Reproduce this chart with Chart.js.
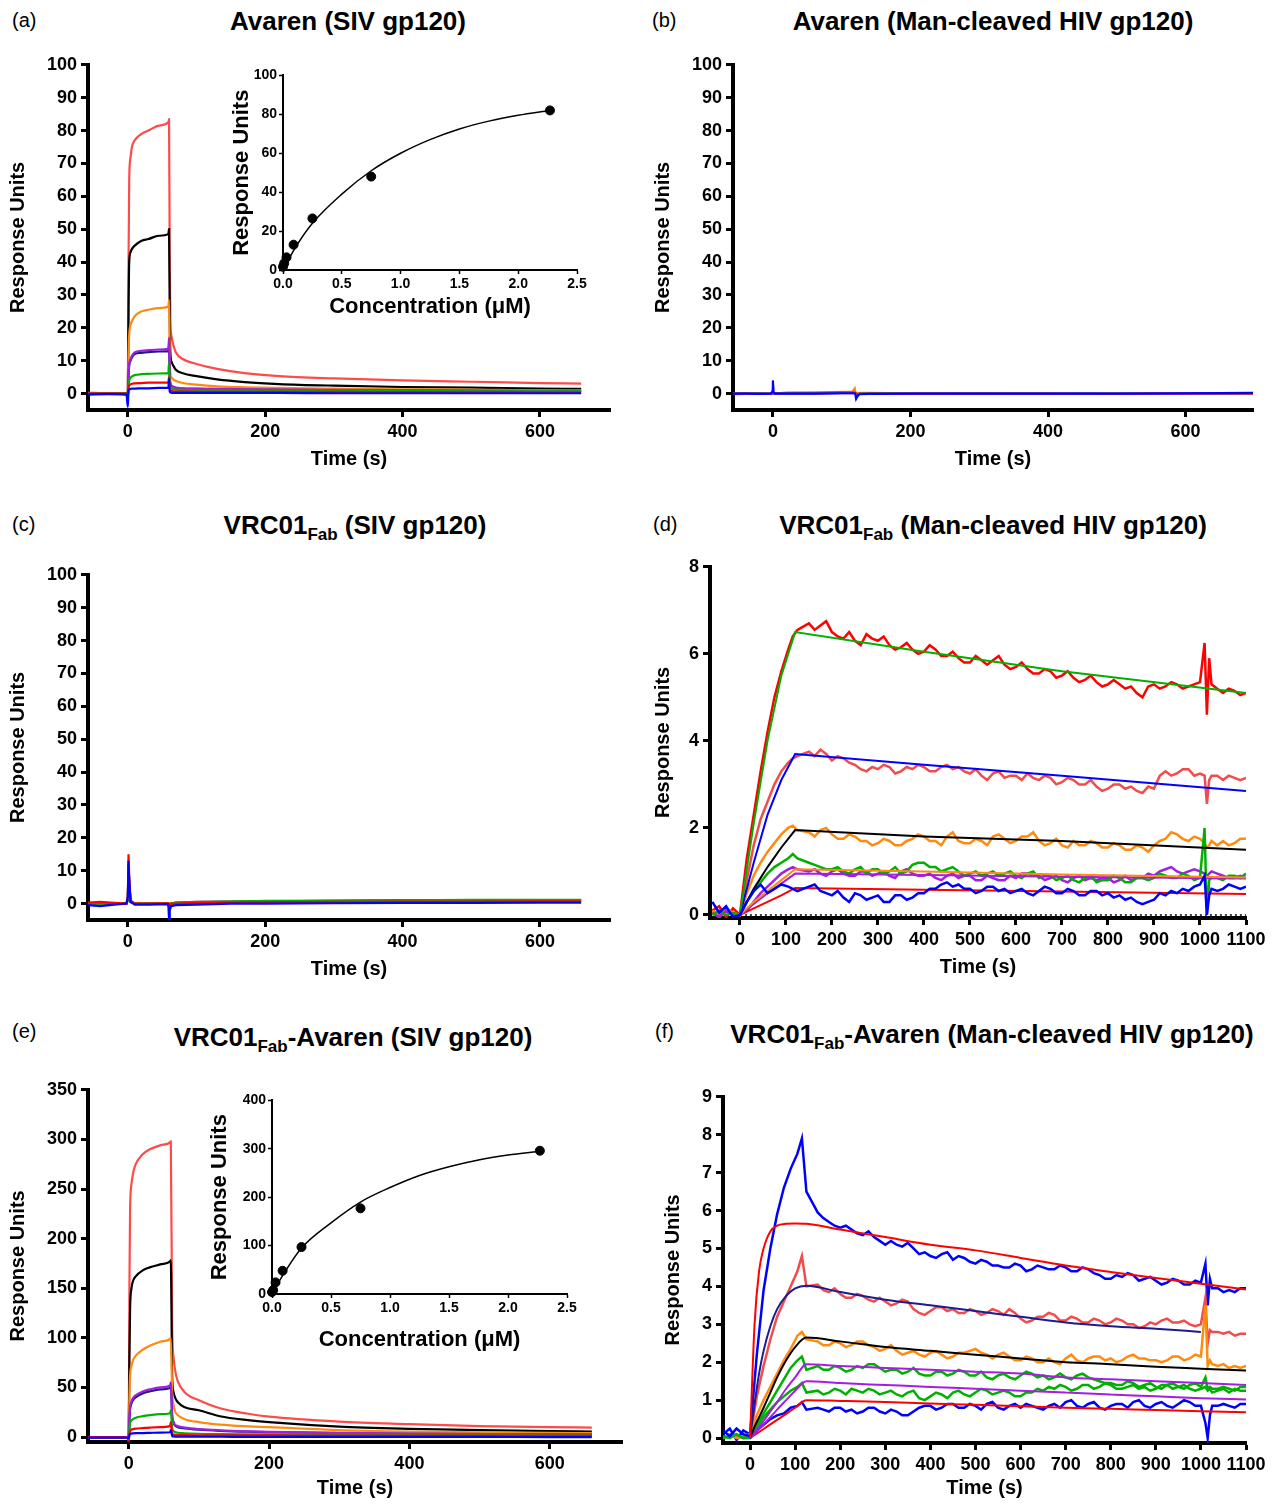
<!DOCTYPE html>
<html>
<head>
<meta charset="utf-8">
<script src="https://cdn.jsdelivr.net/npm/chart.js@4.4.1/dist/chart.umd.min.js"></script>
<style>
body { margin: 0; background: #fff; font-family: "Liberation Sans", Arial, sans-serif; }
#page { position: relative; width: 1278px; height: 1504px; overflow: hidden; }
canvas { position: absolute; }
.title { position: absolute; width: 600px; font-weight: bold; font-size: 26px; line-height: 30px; text-align: center; white-space: nowrap; }
.title sub { font-size: 17px; vertical-align: -6px; line-height: 0; }
.lab { position: absolute; font-size: 20px; line-height: 24px; }
</style>
</head>
<body>
<div id="page">
  <div class="lab" style="left:12px;top:8px">(a)</div>
  <div class="title" style="left:48px;top:6px">Avaren (SIV gp120)</div>
  <div class="lab" style="left:652px;top:8px">(b)</div>
  <div class="title" style="left:693px;top:6px">Avaren (Man-cleaved HIV gp120)</div>
  <div class="lab" style="left:12px;top:512px">(c)</div>
  <div class="title" style="left:55px;top:510px">VRC01<sub>Fab</sub> (SIV gp120)</div>
  <div class="lab" style="left:653px;top:512px">(d)</div>
  <div class="title" style="left:693px;top:510px">VRC01<sub>Fab</sub> (Man-cleaved HIV gp120)</div>
  <div class="lab" style="left:12px;top:1019px">(e)</div>
  <div class="title" style="left:53px;top:1022px">VRC01<sub>Fab</sub>-Avaren (SIV gp120)</div>
  <div class="lab" style="left:655px;top:1019px">(f)</div>
  <div class="title" style="left:692px;top:1019px">VRC01<sub>Fab</sub>-Avaren (Man-cleaved HIV gp120)</div>

  <canvas id="ca"></canvas>
  <canvas id="cai"></canvas>
  <canvas id="cb"></canvas>
  <canvas id="cc"></canvas>
  <canvas id="cd"></canvas>
  <canvas id="ce"></canvas>
  <canvas id="cei"></canvas>
  <canvas id="cf"></canvas>
</div>
<script>
// ---- (a) Avaren / SIV gp120 ----
const aTime   = [-58,-30,-2,0, 1,2,4,6,10,20,30,45,59, 60,61,62,64,66,70,80,100,130,170,220,300,400,500,600,660];
const aSalmon = [0,0,0,0, 40,65,72,75,77,79,80,81.5,82.5, 83.5,40,22,17,15,12.5,10.5,9,7.5,6.2,5.3,4.6,4,3.6,3.2,3];
const aBlack  = [0,0,0,-1, 25,40,43,44,45,46.5,47,48,48.5, 50,24,12,9.5,8.5,7.2,6.2,5.3,4.3,3.5,2.9,2.4,2,1.8,1.5,1.4];
const aOrange = [0,0,0,-1, 12,18,21,22,23.5,25,25.5,26,26.5, 28.5,12,6,4.8,4.3,3.8,3.2,2.7,2.2,1.9,1.7,1.5,1.3,1.2,1,1];
const aPurple = [0.3,0,-0.3,-1, 6,9,10.5,11.5,12.5,13,13.2,13.4,13.6, 17,6,3,2.4,2.1,1.8,1.6,1.5,1.4,1.3,1.2,1.1,1,0.9,0.85,0.8];
const aNavy   = [0,0,0,-1.5, 5,8.5,10,11,12,12.4,12.6,12.8,12.9, 15,5.5,2.8,2.2,2,1.7,1.5,1.4,1.3,1.2,1.1,1,0.9,0.8,0.75,0.7];
const aGreen  = [0,0,0,-1, 2.5,4,4.8,5.2,5.6,5.9,6,6.1,6.2, 9.5,3,1.8,1.5,1.3,1.2,1.1,1,0.95,0.9,0.85,0.8,0.75,0.7,0.7,0.7];
const aRed    = [0,0,0,-1, 1.5,2.5,2.8,3,3.1,3.2,3.3,3.3,3.4, 5,1.5,0.9,0.8,0.7,0.6,0.6,0.55,0.5,0.5,0.5,0.5,0.45,0.45,0.4,0.4];
const aBlue   = [-0.3,-0.2,-0.3,-4, 1,1.3,1.4,1.5,1.5,1.6,1.6,1.7,1.7, 4.5,0.6,0.3,0.2,0.2,0.2,0.2,0.2,0.2,0.2,0.2,0.1,0.1,0.1,0.1,0.1];

// insets: steady-state response vs concentration
const insetConc    = [0, 0.01, 0.03, 0.09, 0.25, 0.75, 2.27];
const insetFitConc = [0, 0.1, 0.25, 0.5, 0.75, 1.0, 1.25, 1.5, 1.75, 2.0, 2.27];
const aInsetResp   = [1.7, 3.4, 6.5, 13, 26.5, 48, 82];
const aInsetFit    = [0, 11, 24, 39, 51, 60, 67, 72.5, 76.5, 79.5, 82];
const eInsetResp   = [4, 8, 24, 48, 97, 177, 296];
const eInsetFit    = [0, 42, 95, 147, 190, 220, 245, 263, 277, 287, 295];

// ---- (b) Avaren / Man-cleaved HIV gp120 ----
const bTime   = [-58,-40,-20,-3,-1,0,1,3,20,60,100,115,119,120,121,123,126,140,200,300,400,500,600,698];
const bOrange = [0,0,0,0,0,0,0,0.1,0.2,0.3,0.5,0.5,1.6,0.4,0.2,0.2,0.2,0.2,0.1,0.1,0,0,0,0.1];
const bRed    = [0,0.1,0,0,0,0,0,0.1,0.2,0.2,0.3,0.3,0.3,0.2,-0.4,-0.3,0,0,0,0,-0.1,-0.1,0,0];
const bGreen  = [0,0,0.1,0,0,0.3,0,0,0.1,0.1,0.2,0.2,0.2,0.1,-0.3,-0.2,0,0,0,0,0,0,0,0.1];
const bPurple = [-0.2,-0.1,0,0,0,0.5,0,0,0,0,0.1,0.1,0.1,0,-0.6,-0.3,-0.1,-0.1,-0.1,0,0,-0.1,0,0.1];
const bBlue   = [0,0,-0.1,0,0.5,4,0.5,0,0,0,0.1,0.1,0.1,-0.3,-1.6,-0.8,-0.2,-0.1,0,0,0,0,0.1,0.2];

// ---- (c) VRC01Fab / SIV gp120 ----
const cTime   = [-58,-40,-20,-2,0,1,2,4,10,30,58,59,60,61,63,70,100,150,200,300,400,500,600,660];
const cRed    = [0.3,0.5,0.2,0,2,15,8,1,0,0,0.1,0.1,-1,-0.5,0,0,0.2,0.3,0.4,0.5,0.6,0.6,0.7,0.7];
const cBlack  = [0,0,0,0,1,12,6,0.5,0,0,0,0,-1,-0.5,0,0.3,0.5,0.6,0.7,0.8,1,1,1,1];
const cGreen  = [0,0,0,0,1,12,6,0.5,0,0,0,0,-1,-0.5,0,0.2,0.4,0.6,0.8,0.9,1,1.1,1.1,1.1];
const cOrange = [0,0,0,0,1,12,6,0.5,0,0,0,0,-1,-0.5,0,0.2,0.4,0.5,0.6,0.7,0.8,0.9,0.9,0.9];
const cBlue   = [-0.5,-0.8,-0.3,0,2,13,7,0.5,-0.3,-0.3,-0.2,-0.2,-5,-2,-0.8,-0.5,-0.3,0,0,0.1,0.2,0.2,0.3,0.3];

// ---- noisy sensorgrams, (d) and (f) share one time grid ----
const noisyTime = [-60,-45,-30,-15, 0,15,30,45,60,75,90,105,115,125,
  150,162.5,175,187.5,200,212.5,225,237.5,250,262.5,275,287.5,300,312.5,325,337.5,350,362.5,375,387.5,
  400,412.5,425,437.5,450,462.5,475,487.5,500,512.5,525,537.5,550,562.5,575,587.5,600,612.5,625,637.5,
  650,662.5,675,687.5,700,712.5,725,737.5,750,762.5,775,787.5,800,812.5,825,837.5,850,862.5,875,887.5,
  900,912.5,925,937.5,950,962.5,975,987.5,1000,
  1010,1015,1020,1025, 1037.5,1050,1062.5,1075,1087.5,1100];

// (d) VRC01Fab / Man-cleaved HIV gp120
const dRed = [0.1,0.2,-0.05,0.15, 0,1.3,2.3,3.3,4.2,5.0,5.6,6.1,6.4,6.55,
  6.7,6.55,6.65,6.75,6.5,6.4,6.35,6.5,6.3,6.2, 6.45,6.35,6.3,6.4,6.2,6.1,6.15,6.25,6.1,6.0,
  6.05,6.2,6.1,5.95,5.95,6.05,5.9,5.8,5.8,5.95, 5.85,5.75,5.85,5.95,5.75,5.65,5.7,5.8,5.65,5.55,
  5.55,5.65,5.6,5.45,5.5,5.6,5.45,5.35,5.4,5.5, 5.35,5.25,5.3,5.4,5.3,5.2,5.25,5.1,5.0,5.25,
  5.3,5.2,5.25,5.35,5.3,5.2,5.25,5.3,5.35,
  6.25,4.6,5.9,5.3, 5.2,5.1,5.2,5.15,5.05,5.1];
const dLightRed = [0.05,-0.05,0.1,0, 0,0.8,1.6,2.2,2.6,3.0,3.3,3.5,3.6,3.65,
  3.75,3.65,3.8,3.7,3.55,3.65,3.6,3.5,3.45,3.35, 3.3,3.4,3.35,3.45,3.4,3.25,3.3,3.4,3.35,3.45,
  3.4,3.3,3.3,3.4,3.45,3.35,3.4,3.3,3.25,3.35, 3.2,3.1,3.25,3.3,3.15,3.2,3.2,3.1,3.25,3.15,
  3.1,3.2,3.15,3.0,3.05,3.15,3.1,3.0,3.0,3.1, 2.95,2.85,2.9,3.0,3.0,2.9,2.95,2.85,2.8,2.95,
  2.9,3.2,3.3,3.2,3.25,3.35,3.35,3.2,3.25,
  3.2,2.55,3.1,3.2, 3.2,3.1,3.2,3.15,3.1,3.15];
const dOrange = [0.1,0,0.15,0.05, 0,0.5,0.9,1.2,1.45,1.65,1.85,2.0,2.05,1.95,
  1.9,1.8,1.95,2.0,1.85,1.75,1.75,1.85,1.8,1.7, 1.7,1.6,1.65,1.75,1.7,1.6,1.6,1.7,1.75,1.85,
  1.8,1.7,1.7,1.6,1.8,1.9,1.7,1.65,1.65,1.75, 1.7,1.6,1.8,1.85,1.75,1.65,1.7,1.8,1.8,1.9,
  1.7,1.6,1.65,1.75,1.6,1.55,1.7,1.6,1.6,1.7, 1.65,1.55,1.55,1.65,1.6,1.5,1.5,1.6,1.55,1.45,
  1.6,1.7,1.75,1.9,1.85,1.75,1.7,1.8,1.75,
  1.65,1.55,1.6,1.7, 1.6,1.7,1.6,1.65,1.75,1.75];
const dGreen = [0,0.1,0,0.05, 0,0.3,0.55,0.75,0.95,1.1,1.2,1.3,1.4,1.3,
  1.2,1.15,1.1,1.05,1.05,1.1,1.0,0.95,1.05,1.1, 0.95,1.05,1.05,0.95,1.0,1.1,0.95,1.0,1.15,1.2,
  1.2,1.1,1.1,1.0,1.05,1.1,1.0,0.9,0.95,1.0, 0.9,0.95,1.0,0.9,0.95,1.0,0.9,0.85,0.95,1.0,
  0.85,0.9,0.9,0.8,0.85,0.9,0.8,0.75,0.85,0.9, 0.75,0.8,0.8,0.9,0.85,0.75,0.75,0.85,0.85,0.8,
  0.85,0.95,0.9,0.85,0.85,0.95,0.9,0.8,0.85,
  2.0,0.0,0.8,0.85, 0.85,0.8,0.9,0.9,0.85,0.95];
const dPurple = [0.05,-0.05,0.1,0, 0,0.1,0.3,0.5,0.65,0.8,0.95,1.05,1.1,1.05,
  1.0,1.05,0.95,0.9,1.0,1.05,0.95,0.9,0.9,1.0, 1.0,0.9,0.95,1.0,0.9,0.85,1.0,1.05,0.95,0.9,
  0.9,0.95,0.85,0.8,0.9,0.95,0.85,0.9,0.9,0.8, 0.8,0.9,0.85,0.8,0.8,0.9,0.85,0.95,0.95,0.9,
  0.9,0.8,0.85,0.9,0.8,0.75,0.85,0.9,0.8,0.85, 0.8,0.85,0.85,0.75,0.8,0.9,0.8,0.85,0.85,0.95,
  0.9,1.0,1.05,1.1,1.0,0.95,1.0,1.05,1.0,
  0.95,0.9,0.95,1.0, 0.95,0.9,0.85,0.85,0.9,0.85];
const dBlue = [0.3,0.05,0.2,-0.05, 0,0.3,0.55,0.7,0.5,0.6,0.7,0.65,0.6,0.55,
  0.65,0.7,0.55,0.5,0.45,0.55,0.4,0.3,0.5,0.45, 0.35,0.4,0.45,0.3,0.3,0.45,0.45,0.35,0.4,0.5,
  0.5,0.6,0.6,0.7,0.75,0.65,0.7,0.6,0.6,0.5, 0.55,0.65,0.65,0.55,0.6,0.5,0.55,0.6,0.5,0.45,
  0.55,0.65,0.6,0.5,0.5,0.6,0.55,0.45,0.45,0.55, 0.55,0.45,0.5,0.4,0.45,0.35,0.4,0.3,0.25,0.3,
  0.35,0.5,0.45,0.55,0.5,0.6,0.55,0.65,0.7,
  0.9,0.0,0.45,0.6, 0.55,0.6,0.7,0.65,0.6,0.65];
const dFitTime   = [0,30,60,90,120,400,700,1100];
const dFitGreen  = [0,2.1,4.0,5.5,6.5,6.05,5.6,5.1];
const dFitBlue   = [0,1.2,2.3,3.1,3.7,3.45,3.2,2.85];
const dFitBlack  = [0,0.6,1.1,1.55,1.95,1.8,1.7,1.5];
const dFitOrange = [0,0.3,0.55,0.8,1.05,1.0,0.93,0.86];
const dFitPurple = [0,0.25,0.5,0.72,0.95,0.92,0.88,0.84];
const dFitRed    = [0,0.15,0.3,0.45,0.62,0.58,0.54,0.48];
const dZeroTime  = [0,1100];
const dZero      = [0,0];

// ---- (e) VRC01Fab-Avaren / SIV gp120 ----
const eTime     = [-58,-30,-2,0, 1,2,4,6,10,20,30,45,59,60, 62,64,66,70,80,100,130,170,200,300,400,500,600,660];
const eLightRed = [0,0,0,0, 150,230,255,265,275,285,290,294,297,298, 110,80,68,56,45,37,29,23.5,20.5,15.5,13,11,10,9.5];
const eBlack    = [0,0,0,-2, 80,130,150,157,162,168,171,174,177,178, 60,45,40,35,30,27,21,17,15,10.5,8.3,7,6,5.5];
const eOrange   = [0,0,0,-2, 40,62,72,77,82,88,92,96,99,100, 45,32,26,22,18,15,12.5,10.8,10,7,5.5,4.8,4.2,4];
const ePurple   = [0,0,0,-2, 18,30,36,39,42,46,48,50,52,55, 22,15,12.5,11,9.5,8,6.8,5.8,5.3,4.2,3.5,3.1,2.8,2.7];
const eNavy     = [0,0,0,-2, 16,28,34,37,40,44,46,48,49.5,52, 20,14,11.5,10,8.7,7.4,6.3,5.4,5,4,3.3,2.9,2.6,2.5];
const eGreen    = [0,0,0,-2, 8,14,17,18,19.5,21,22,23,24,27, 9,6,5,4.3,3.8,3.3,3,2.8,2.7,2.4,2.2,2.1,2,2];
const eRed      = [0,0,0,-5, 3,6,7.5,8,8.5,9,9.5,10,11,15, 4,2.5,2.2,2,1.9,1.8,1.7,1.6,1.6,1.5,1.5,1.4,1.4,1.4];
const eBlue     = [-0.5,-0.5,-0.5,-1, 2,3,3.5,3.7,3.9,4,4.2,4.5,4.8,7, 1,0.6,0.5,0.4,0.4,0.3,0.3,0.2,0.2,0.2,0.1,0.1,0,0];

// ---- (f) VRC01Fab-Avaren / Man-cleaved HIV gp120 ----
const fBlueTop = [0.1,0.25,-0.05,0.2, 0.1,2.2,3.9,5.0,5.9,6.6,7.1,7.5,7.9,6.5,
  5.95,5.8,5.7,5.6,5.55,5.6,5.5,5.4,5.35,5.45, 5.3,5.2,5.1,5.2,5.1,5.05,5.15,5.0,4.85,4.9,
  4.8,4.75,4.85,4.9,4.7,4.8,4.75,4.65,4.6,4.7, 4.65,4.55,4.55,4.5,4.5,4.6,4.55,4.4,4.45,4.55,
  4.5,4.45,4.45,4.55,4.5,4.4,4.4,4.5,4.45,4.35, 4.3,4.2,4.2,4.3,4.25,4.35,4.3,4.15,4.2,4.25,
  4.15,4.05,4.1,4.2,4.15,4.05,4.05,4.15,4.1,
  4.6,3.5,4.2,3.95, 3.95,3.85,3.9,3.85,3.95,3.95];
const fLightRed = [0,0.1,0.05,0, 0,1.1,1.9,2.6,3.2,3.6,4.0,4.4,4.8,4.0,
  4.05,3.9,3.85,3.95,3.8,3.7,3.7,3.8,3.75,3.65, 3.6,3.7,3.6,3.5,3.55,3.65,3.6,3.4,3.3,3.25,
  3.35,3.45,3.45,3.35,3.4,3.3,3.3,3.4,3.35,3.25, 3.3,3.4,3.35,3.25,3.4,3.3,3.15,3.05,3.1,3.2,
  3.2,3.3,3.25,3.1,3.1,3.2,3.15,3.05,3.05,3.15, 3.1,3.0,3.05,3.15,3.1,3.0,3.0,2.9,2.95,3.05,
  3.0,3.1,3.15,3.05,3.05,3.1,3.0,2.95,3.0,
  3.7,2.5,2.85,2.8, 2.8,2.75,2.8,2.7,2.75,2.75];
const fOrange = [0,0.1,0,0.05, 0.1,0.6,1.0,1.35,1.7,2.05,2.35,2.7,2.8,2.6,
  2.55,2.45,2.45,2.55,2.5,2.4,2.45,2.55,2.55,2.45, 2.4,2.3,2.35,2.45,2.3,2.2,2.25,2.3,2.2,2.15,
  2.25,2.3,2.2,2.1,2.15,2.25,2.25,2.3,2.35,2.25, 2.2,2.1,2.2,2.25,2.15,2.05,2.05,2.15,2.1,2.0,
  2.0,2.1,2.0,1.95,2.1,2.2,2.05,2.0,2.1,2.15, 2.15,2.05,2.1,2.0,2.05,2.15,2.2,2.1,2.1,2.05,
  2.05,2.0,2.05,2.15,2.15,2.05,2.1,2.2,2.15,
  3.5,1.9,2.05,1.95, 1.9,1.95,1.85,1.9,1.85,1.9];
const fGreenUp = [0,0.05,0.1,0, 0.05,0.35,0.65,0.95,1.25,1.55,1.85,2.05,2.15,1.8,
  1.9,1.8,1.8,1.9,1.85,1.75,1.8,1.9,1.85,1.95, 1.95,1.85,1.75,1.8,1.8,1.7,1.75,1.85,1.7,1.65,
  1.65,1.75,1.75,1.65,1.7,1.8,1.75,1.65,1.65,1.75, 1.6,1.55,1.65,1.7,1.6,1.55,1.65,1.75,1.7,1.6,
  1.65,1.55,1.6,1.7,1.6,1.55,1.65,1.7,1.6,1.55, 1.5,1.45,1.45,1.4,1.4,1.5,1.45,1.35,1.4,1.45,
  1.35,1.3,1.4,1.45,1.35,1.3,1.4,1.45,1.35,
  1.6,1.3,1.35,1.3, 1.3,1.35,1.3,1.25,1.35,1.35];
const fGreenLow = [0.05,0,0.1,0, 0,0.3,0.55,0.75,0.95,1.1,1.25,1.35,1.45,1.2,
  1.25,1.15,1.2,1.3,1.25,1.15,1.3,1.25,1.2,1.3, 1.25,1.15,1.2,1.25,1.15,1.1,1.2,1.25,1.05,1.0,
  1.1,1.2,1.15,1.05,1.2,1.25,1.15,1.1,1.2,1.3, 1.25,1.15,1.2,1.25,1.2,1.1,1.1,1.2,1.2,1.3,
  1.25,1.35,1.3,1.4,1.35,1.25,1.3,1.4,1.4,1.3, 1.35,1.45,1.4,1.3,1.3,1.35,1.4,1.3,1.35,1.25,
  1.3,1.4,1.4,1.3,1.35,1.4,1.3,1.25,1.3,
  1.35,1.25,1.3,1.2, 1.25,1.3,1.2,1.3,1.25,1.25];
const fBlueLow = [0.2,0.05,0.25,0.1, 0.05,0.2,0.35,0.5,0.6,0.65,0.8,0.85,0.95,0.75,
  0.8,0.75,0.7,0.8,0.8,0.7,0.75,0.65,0.7,0.8, 0.8,0.7,0.65,0.75,0.7,0.6,0.6,0.7,0.8,0.85,
  0.85,0.75,0.8,0.9,0.9,0.8,0.8,0.9,0.85,0.75, 0.9,0.95,0.8,0.75,0.85,0.9,0.8,0.9,0.85,0.8,
  0.75,0.85,0.9,0.8,0.95,1.0,0.85,0.8,0.9,0.95, 0.8,0.75,0.85,0.9,0.9,0.8,0.95,1.0,0.85,0.8,
  0.9,0.95,0.85,0.8,0.9,1.0,0.95,0.85,0.85,
  0.4,0.0,0.6,0.85, 0.85,0.9,0.85,0.8,0.9,0.9];
const fFitTime      = [0,10,20,30,45,60,80,100,125,200,300,400,500,600,700,800,900,1000,1100];
const fFitRedTop    = [0,3.0,4.4,5.0,5.45,5.6,5.65,5.66,5.65,5.5,5.3,5.1,4.95,4.75,4.55,4.38,4.22,4.07,3.92];
const fFitNavy      = [0,0.9,1.7,2.3,2.95,3.4,3.75,3.95,4.02,3.85,3.65,3.5,3.35,3.2,3.05,2.95,2.88,2.8,null];
const fFitBlack     = [0,0.3,0.55,0.8,1.2,1.6,2.05,2.4,2.65,2.55,2.4,2.3,2.2,2.1,2.0,1.95,1.88,1.83,1.78];
const fFitPurpleUp  = [0,0.15,0.3,0.45,0.7,0.95,1.3,1.6,1.95,1.9,1.85,1.8,1.75,1.7,1.6,1.55,1.5,1.45,1.4];
const fFitPurpleLow = [0,0.12,0.24,0.36,0.55,0.75,1.0,1.25,1.5,1.45,1.4,1.35,1.3,1.25,1.2,1.15,1.1,1.05,1.02];
const fFitRedLow    = [0,0.08,0.16,0.24,0.36,0.48,0.64,0.8,1.0,0.98,0.95,0.91,0.88,0.84,0.8,0.77,0.74,0.71,0.68];

// ---- tick values ----
const timeTicks600  = [0, 200, 400, 600];
const timeTicks1100 = [0, 100, 200, 300, 400, 500, 600, 700, 800, 900, 1000, 1100];
const ru100Ticks = [0, 10, 20, 30, 40, 50, 60, 70, 80, 90, 100];
const ru350Ticks = [0, 50, 100, 150, 200, 250, 300, 350];
const ru8Ticks   = [0, 2, 4, 6, 8];
const ru9Ticks   = [0, 1, 2, 3, 4, 5, 6, 7, 8, 9];
const concTicks  = [0, 0.5, 1.0, 1.5, 2.0, 2.5];
const insetATicks = [0, 20, 40, 60, 80, 100];
const insetETicks = [0, 100, 200, 300, 400];

const FONT = "'Liberation Sans', Arial, sans-serif";
const C = {
  salmon: '#ff4a4a', lightred: '#f24b4b', red: '#ff0000', black: '#000000',
  orange: '#ff8a10', purple: '#a21ee0', navy: '#1c1c8c', green: '#00b000', blue: '#0000ff'
};

function line(xs, ys, color, width, smooth) {
  return {
    data: xs.map((x, i) => ({ x: x, y: ys[i] })),
    borderColor: color, borderWidth: width, pointRadius: 0,
    tension: 0, cubicInterpolationMode: smooth ? 'monotone' : 'default'
  };
}

function dots(xs, ys) {
  return {
    data: xs.map((x, i) => ({ x: x, y: ys[i] })),
    showLine: false, pointRadius: 4.5, pointBackgroundColor: '#000',
    pointBorderColor: '#000', clip: false
  };
}

function axis(a, isX, box, big) {
  return {
    type: 'linear', position: isX ? 'bottom' : 'left', min: a.min, max: a.max,
    afterBuildTicks: s => { s.ticks = a.ticks.map(v => ({ value: v })); },
    afterFit: s => { if (isX) s.height = box.xH; else s.width = box.yW; },
    grid: { display: true, drawOnChartArea: false, drawTicks: true,
      tickLength: big ? 7 : 4, tickWidth: big ? 3 : 1.5, tickColor: '#000' },
    border: { display: true, color: '#000', width: big ? 4 : 2 },
    ticks: { color: '#000', padding: big ? 4 : 2, autoSkip: false, maxRotation: 0,
      font: { family: FONT, weight: 'bold', size: big ? 18 : 14 },
      callback: a.fmt || (v => String(v)) },
    title: { display: true, text: a.title, color: '#000',
      font: { family: FONT, weight: 'bold', size: big ? 20 : 22 },
      padding: isX ? { top: 0, bottom: big ? 4 : 1 } : { top: big ? 6 : 1, bottom: 0 } }
  };
}

function panel(id, box, xa, ya, datasets, big) {
  const cv = document.getElementById(id);
  cv.width = box.w; cv.height = box.h;
  cv.style.left = box.left + 'px'; cv.style.top = box.top + 'px';
  new Chart(cv, {
    type: 'line',
    data: { datasets: datasets },
    options: {
      responsive: false, animation: false,
      layout: { padding: { top: box.pt, right: box.pr, left: 0, bottom: 0 } },
      plugins: { legend: { display: false }, tooltip: { enabled: false } },
      scales: { x: axis(xa, true, box, big), y: axis(ya, false, box, big) }
    }
  });
}

const timeTitle = 'Time (s)';
const ruTitle = 'Response Units';
const concTitle = 'Concentration (\u03bcM)';
const fmt1 = v => v.toFixed(1);
const W = 2.2;

// (a)
panel('ca', { left: 0, top: 50, w: 625, h: 425, yW: 88, xH: 65, pt: 12, pr: 15 },
  { min: -58, max: 702, ticks: timeTicks600, title: timeTitle },
  { min: -5, max: 100, ticks: ru100Ticks, title: ruTitle },
  [ line(aTime, aBlue, C.blue, W, true), line(aTime, aRed, C.red, W, true),
    line(aTime, aGreen, C.green, W, true), line(aTime, aPurple, C.purple, W, true),
    line(aTime, aNavy, C.navy, W, true), line(aTime, aOrange, C.orange, W, true),
    line(aTime, aBlack, C.black, W, true), line(aTime, aSalmon, C.salmon, W, true) ], true);

panel('cai', { left: 228, top: 65, w: 364, h: 256, yW: 55, xH: 51, pt: 10, pr: 15 },
  { min: 0, max: 2.5, ticks: concTicks, title: concTitle, fmt: fmt1 },
  { min: 0, max: 100, ticks: insetATicks, title: ruTitle },
  [ dots(insetConc, aInsetResp), line(insetFitConc, aInsetFit, '#000', 1.5, true) ], false);

// (b)
panel('cb', { left: 645, top: 50, w: 623, h: 425, yW: 88, xH: 65, pt: 12, pr: 15 },
  { min: -58, max: 698, ticks: timeTicks600, title: timeTitle },
  { min: -5, max: 100, ticks: ru100Ticks, title: ruTitle },
  [ line(bTime, bBlue, C.blue, W, false), line(bTime, bPurple, C.purple, W, false),
    line(bTime, bGreen, C.green, W, false), line(bTime, bRed, C.red, W, false),
    line(bTime, bOrange, C.orange, W, false) ], true);

// (c)
panel('cc', { left: 0, top: 560, w: 625, h: 425, yW: 88, xH: 65, pt: 12, pr: 15 },
  { min: -58, max: 702, ticks: timeTicks600, title: timeTitle },
  { min: -5, max: 100, ticks: ru100Ticks, title: ruTitle },
  [ line(cTime, cBlue, C.blue, W, false), line(cTime, cRed, C.red, W, false),
    line(cTime, cGreen, C.green, W, false), line(cTime, cOrange, C.orange, W, false),
    line(cTime, cBlack, C.black, W, false) ], true);

// (d)
panel('cd', { left: 645, top: 552, w: 626, h: 431, yW: 65, xH: 65, pt: 12, pr: 25 },
  { min: -65, max: 1100, ticks: timeTicks1100, title: timeTitle },
  { min: -0.07, max: 8, ticks: ru8Ticks, title: ruTitle },
  [ line(noisyTime, dBlue, C.blue, 2.5, false),
    line(dFitTime, dFitGreen, C.green, 2, false), line(dFitTime, dFitBlue, C.blue, 2, false),
    line(dFitTime, dFitBlack, C.black, 2, false), line(dFitTime, dFitOrange, C.orange, 2, false),
    line(dFitTime, dFitPurple, C.purple, 2, false), line(dFitTime, dFitRed, C.red, 2, false),
    line(noisyTime, dGreen, C.green, 2.5, false), line(noisyTime, dPurple, C.purple, 2.5, false),
    line(noisyTime, dOrange, C.orange, 2.5, false), line(noisyTime, dLightRed, C.lightred, 2.5, false),
    line(noisyTime, dRed, C.red, 2.5, false),
    Object.assign(line(dZeroTime, dZero, '#000', 1.5, false), { borderDash: [2, 3] }) ], true);

// (e)
panel('ce', { left: 0, top: 1075, w: 637, h: 429, yW: 88, xH: 62, pt: 12, pr: 15 },
  { min: -58, max: 703, ticks: timeTicks600, title: timeTitle },
  { min: -5, max: 350, ticks: ru350Ticks, title: ruTitle },
  [ line(eTime, eBlue, C.blue, W, true), line(eTime, eRed, C.red, W, true),
    line(eTime, eGreen, C.green, W, true), line(eTime, ePurple, C.purple, W, true),
    line(eTime, eNavy, C.navy, W, true), line(eTime, eOrange, C.orange, W, true),
    line(eTime, eBlack, C.black, W, true), line(eTime, eLightRed, C.salmon, W, true) ], true);

panel('cei', { left: 206, top: 1090, w: 376, h: 264, yW: 66, xH: 60, pt: 10, pr: 15 },
  { min: 0, max: 2.5, ticks: concTicks, title: concTitle, fmt: fmt1 },
  { min: 0, max: 400, ticks: insetETicks, title: ruTitle },
  [ dots(insetConc, eInsetResp), line(insetFitConc, eInsetFit, '#000', 1.5, true) ], false);

// (f)
panel('cf', { left: 655, top: 1082, w: 616, h: 422, yW: 68, xH: 61, pt: 12, pr: 25 },
  { min: -60, max: 1100, ticks: timeTicks1100, title: timeTitle },
  { min: -0.13, max: 9, ticks: ru9Ticks, title: ruTitle },
  [ line(fFitTime, fFitRedTop, C.red, 2, true), line(fFitTime, fFitNavy, C.navy, 2, true),
    line(fFitTime, fFitBlack, C.black, 2, true), line(fFitTime, fFitPurpleUp, C.purple, 2, true),
    line(fFitTime, fFitPurpleLow, C.purple, 2, true), line(fFitTime, fFitRedLow, C.red, 2, true),
    line(noisyTime, fBlueLow, C.blue, 2.5, false), line(noisyTime, fGreenLow, C.green, 2.5, false),
    line(noisyTime, fGreenUp, C.green, 2.5, false), line(noisyTime, fOrange, C.orange, 2.5, false),
    line(noisyTime, fLightRed, C.lightred, 2.5, false), line(noisyTime, fBlueTop, C.blue, 2.5, false) ], true);
</script>
</body>
</html>
